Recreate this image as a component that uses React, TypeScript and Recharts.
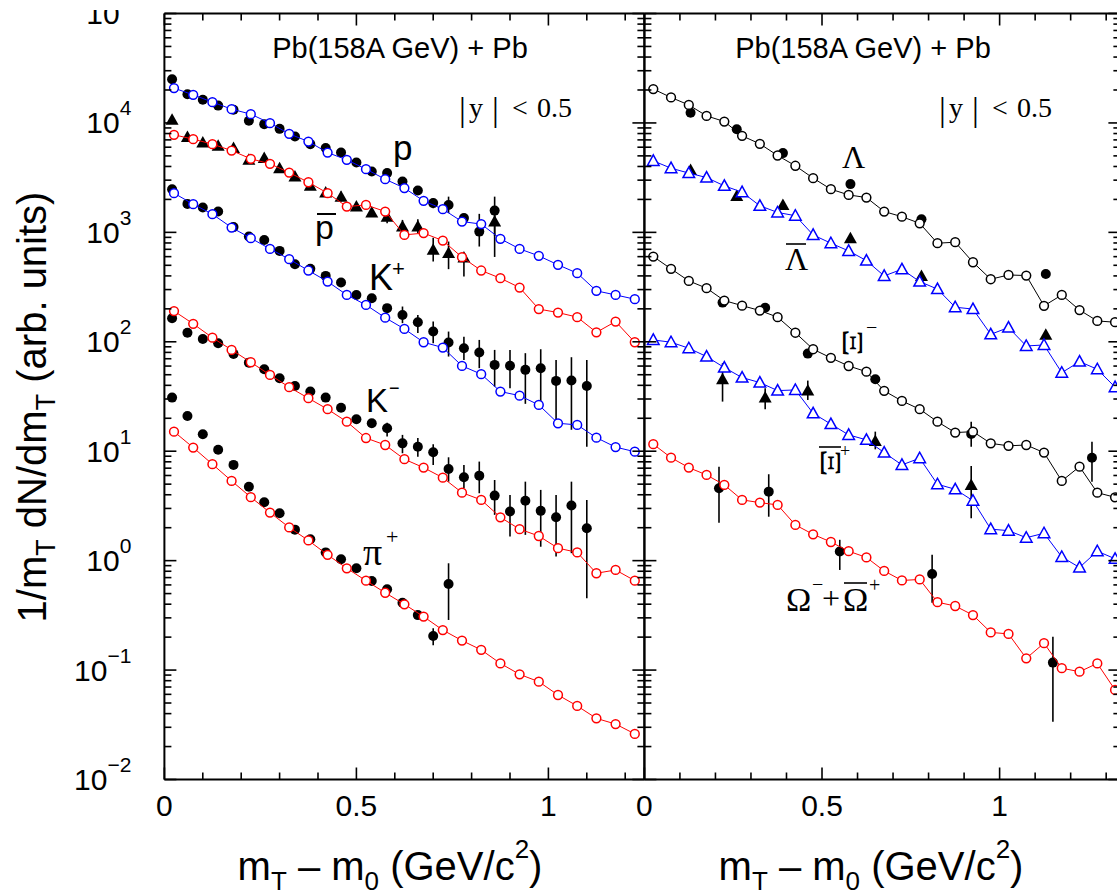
import React from 'react';
import { ScatterChart, Scatter, XAxis, YAxis, ErrorBar } from 'recharts';

const SANS = "'Liberation Sans', Arial, Helvetica, sans-serif";
const SERIF = "'Liberation Serif', 'Times New Roman', serif";
const BLUE = '#0000ff';
const RED = '#ff0000';
const BLACK = '#000000';

// ---------- axis ticks ----------
const xLabelTicks = [0, 0.5, 1];
const xTicksLeft = [0, 0.1, 0.2, 0.3, 0.4, 0.5, 0.6, 0.7, 0.8, 0.9, 1, 1.1, 1.2];
const xTicksRight = [0, 0.1, 0.2, 0.3, 0.4, 0.5, 0.6, 0.7, 0.8, 0.9, 1, 1.1, 1.2, 1.3];
const yDecades = [0.01, 0.1, 1, 10, 100, 1000, 10000, 100000];
const yDecadeExp = ['\u22122', '\u22121', '0', '1', '2', '3', '4', '5'];
const yMinorMult = [2, 3, 4, 5, 6, 7, 8, 9];
const yTicks = [
  ...yDecades,
  ...yDecades.slice(0, -1).flatMap((d) => yMinorMult.map((m) => m * d)),
];

// ---------- left panel: x grids ----------
const xModelL = [0.025, 0.075, 0.125, 0.175, 0.225, 0.275, 0.325, 0.375, 0.425, 0.475, 0.525, 0.575, 0.625, 0.675, 0.725, 0.775, 0.825, 0.875, 0.925, 0.975, 1.025, 1.075, 1.125, 1.175, 1.225];
const xDataL = [0.02, 0.06, 0.10, 0.14, 0.18, 0.22, 0.26, 0.30, 0.34, 0.38, 0.42, 0.46, 0.50, 0.54, 0.58, 0.62, 0.66, 0.70, 0.74, 0.78, 0.82, 0.86, 0.90, 0.94, 0.98, 1.02, 1.06, 1.10];

// protons
const pModel = [20800, 18070, 15490, 13370, 12030, 9950, 7950, 6760, 5360, 4600, 3780, 3060, 2540, 1940, 1630, 1255, 1190, 873, 706, 610, 505, 424, 292, 268, 245];
const pData = [25100, 18300, 16300, 14400, 13200, 10450, 9750, 8830, 7520, 6400, 5890, 5360, 4350, 3600, 3480, 2910, 2410, 1850, 1780, 1350, 1016, 1580];
const pDataErr: Record<number, [number, number]> = { 17: [1665, 2050], 18: [1500, 2120], 20: [742, 1476], 21: [930, 2120] };

// antiprotons
const pbarModel = [7790, 7110, 6400, 5590, 4700, 4230, 3520, 2870, 2280, 1720, 1780, 1550, 948, 984, 841, 593, 448, 381, 313, 199, 185, 168, 122, 153, 99];
const pbarData: (number | null)[] = [10670, 7420, 6620, 6180, 5890, 4600, 4770, 3860, 3240, 2660, 2310, 2120, 1720, 1520, 1390, 1130, 1130, 692, 646, 589, null, 1255];
const pbarDataErr: Record<number, [number, number]> = { 11: [1910, 2360], 14: [1210, 1550], 15: [982, 1300], 16: [982, 1320], 17: [541, 891], 18: [461, 824], 19: [394, 646], 21: [596, 1450] };

// K+
const kpModel = [2280, 1810, 1466, 1107, 885, 706, 569, 448, 355, 268, 217, 166, 131, 99, 88.5, 60.2, 50.6, 35.1, 32.2, 26.5, 18.0, 17.4, 13.3, 10.9, 9.9];
const kpData = [2480, 1820, 1690, 1550, 1117, 916, 853, 677, 512, 464, 400, 348, 268, 250, 203, 176, 151, 124, 98.4, 87.4, 79.7, 61.5, 60.5, 55.4, 57.4, 43.9, 44.2, 39.5];
const kpDataErr: Record<number, [number, number]> = { 15: [148, 210], 16: [120, 176], 17: [97, 153], 18: [73.3, 124], 19: [68.3, 111], 20: [57.4, 104], 21: [38.9, 84.3], 22: [37.7, 84.3], 23: [27.1, 78.7], 24: [25.5, 85.5], 25: [18.0, 68.3], 26: [15.7, 72.3], 27: [11.0, 68.3] };

// K-
const kmModel = [191, 146, 109, 84.3, 65.0, 49.8, 38.5, 30.5, 24.2, 18.6, 13.2, 11.4, 8.45, 7.08, 5.73, 4.18, 3.59, 2.49, 1.94, 1.68, 1.30, 1.19, 0.767, 0.822, 0.656];
const kmData = [164, 121, 106, 97, 77.5, 64.5, 56.1, 46.5, 39.5, 35.1, 30.9, 25.0, 19.6, 18.0, 16.2, 11.8, 11.0, 9.8, 6.89, 5.78, 5.98, 3.93, 2.81, 3.53, 2.85, 2.49, 3.19, 1.98];
const kmDataErr: Record<number, [number, number]> = { 14: [13.6, 18.2], 15: [9.58, 14.1], 16: [8.9, 13.2], 17: [7.5, 11.6], 18: [5.27, 8.8], 19: [4.59, 7.5], 20: [4.13, 8.04], 21: [2.62, 5.46], 22: [1.66, 3.98], 23: [1.72, 5.27], 24: [1.34, 4.43], 25: [1.09, 3.98], 26: [1.17, 5.27], 27: [0.453, 3.59] };

// pi+
const piModel = [15.1, 10.8, 7.61, 5.35, 3.80, 2.75, 2.01, 1.53, 1.13, 0.851, 0.656, 0.509, 0.399, 0.308, 0.232, 0.186, 0.153, 0.115, 0.0914, 0.0783, 0.0592, 0.0470, 0.0362, 0.0321, 0.0261];
const piData = [30.9, 21.0, 14.3, 10.3, 7.50, 4.74, 3.42, 2.71, 1.92, 1.57, 1.19, 1.03, 0.851, 0.652, 0.547, 0.413, 0.318, 0.205, 0.612];
const piDataErr: Record<number, [number, number]> = { 17: [0.169, 0.241], 18: [0.287, 0.946] };

// ---------- right panel ----------
const xModelR = [0.025, 0.075, 0.125, 0.175, 0.225, 0.275, 0.325, 0.375, 0.425, 0.475, 0.525, 0.575, 0.625, 0.675, 0.725, 0.775, 0.825, 0.875, 0.925, 0.975, 1.025, 1.075, 1.125, 1.175, 1.225, 1.275, 1.325];
const xLamData = [0.13, 0.26, 0.39, 0.58, 0.78, 1.13];
const xXiData = [0.22, 0.34, 0.46, 0.65, 0.92, 1.26];
const xOmData = [0.21, 0.35, 0.55, 0.81, 1.15];

const lamModel = [20400, 17100, 14600, 11600, 10300, 7620, 6440, 5040, 4060, 3130, 2480, 2200, 2080, 1550, 1390, 1210, 796, 813, 533, 373, 408, 403, 213, 268, 195, 155, 151];
const lamData = [12400, 8770, 5300, 2760, 1320, 417];

const albModel = [4500, 3860, 3480, 3170, 2660, 2330, 1750, 1520, 1420, 948, 796, 677, 552, 400, 460, 355, 303, 207, 199, 117, 135, 91.6, 93.5, 52.2, 65.9, 56.1, 38.5];
const albData = [3720, 2150, 1780, 885, 400, 116];

const xiModel = [601, 464, 360, 309, 238, 214, 193, 168, 121, 85.5, 71.3, 60.1, 53.3, 35.6, 28.8, 24.2, 18.6, 14.8, 15.1, 11.8, 11.2, 11.4, 9.71, 5.35, 7.23, 4.18, 3.79];
const xiData = [228, 205, 78, 45.5, 14.4, 8.73];
const xiDataErr: Record<number, [number, number]> = { 4: [11.0, 18.6], 5: [5.27, 12.2] };

const xbModel = [104, 99.1, 87.3, 73.3, 58.1, 47.1, 42.4, 35.8, 36.3, 22.2, 17.7, 14.1, 12.7, 9.71, 7.50, 8.63, 4.99, 4.49, 3.53, 1.94, 1.88, 1.62, 1.78, 1.08, 0.867, 1.22, 1.04];
const xbData = [45.5, 30.9, 35.8, 12.4, 4.92];
const xbDataErr: Record<number, [number, number]> = { 0: [28.4, 63.7], 1: [24.2, 37.7], 2: [29.4, 44.2], 3: [10.4, 15.1], 4: [2.44, 7.33] };

const omModel = [11.6, 8.73, 7.08, 6.07, 4.92, 3.59, 3.39, 3.23, 2.12, 1.74, 1.48, 1.22, 1.07, 0.805, 0.659, 0.673, 0.417, 0.385, 0.318, 0.221, 0.214, 0.128, 0.176, 0.104, 0.0966, 0.115, 0.0658];
const omData = [4.59, 4.27, 1.21, 0.755, 0.117];
const omDataErr: Record<number, [number, number]> = { 0: [2.22, 7.23], 1: [2.52, 6.16], 2: [0.822, 1.55], 3: [0.413, 1.13], 4: [0.0337, 0.202] };

// ---------- helpers ----------
type Pt = { x: number; y: number; err: [number, number] };

function build(xs: number[], ys: (number | null)[], errs?: Record<number, [number, number]>): Pt[] {
  const out: Pt[] = [];
  ys.forEach((y, i) => {
    if (y == null) return;
    const e = errs ? errs[i] : undefined;
    out.push({ x: xs[i], y, err: e ? [y - e[0], e[1] - y] : [0, 0] });
  });
  return out;
}

const filledCircle = (props: any) => <circle cx={props.cx} cy={props.cy} r={5} fill={BLACK} />;
const filledTri = (props: any) => {
  const { cx, cy } = props;
  return <polygon points={`${cx},${cy - 6.5} ${cx - 6.5},${cy + 5} ${cx + 6.5},${cy + 5}`} fill={BLACK} />;
};
const openCircle = (c: string) => (props: any) => (
  <circle cx={props.cx} cy={props.cy} r={4.4} fill="#ffffff" stroke={c} strokeWidth={1.5} />
);
const openTri = (c: string) => (props: any) => {
  const { cx, cy } = props;
  return <polygon points={`${cx},${cy - 6} ${cx - 5.8},${cy + 4.5} ${cx + 5.8},${cy + 4.5}`} fill="#ffffff" stroke={c} strokeWidth={1.5} />;
};

type Series = { name: string; data: Pt[]; shape: any; line?: string; errors?: boolean };

const leftSeries: Series[] = [
  { name: 'p data', data: build(xDataL, pData, pDataErr), shape: filledCircle, errors: true },
  { name: 'p model', data: build(xModelL, pModel), shape: openCircle(BLUE), line: BLUE },
  { name: 'pbar data', data: build(xDataL, pbarData, pbarDataErr), shape: filledTri, errors: true },
  { name: 'pbar model', data: build(xModelL, pbarModel), shape: openCircle(RED), line: RED },
  { name: 'K+ data', data: build(xDataL, kpData, kpDataErr), shape: filledCircle, errors: true },
  { name: 'K+ model', data: build(xModelL, kpModel), shape: openCircle(BLUE), line: BLUE },
  { name: 'K- data', data: build(xDataL, kmData, kmDataErr), shape: filledCircle, errors: true },
  { name: 'K- model', data: build(xModelL, kmModel), shape: openCircle(RED), line: RED },
  { name: 'pi+ data', data: build(xDataL, piData, piDataErr), shape: filledCircle, errors: true },
  { name: 'pi+ model', data: build(xModelL, piModel), shape: openCircle(RED), line: RED },
];

const rightSeries: Series[] = [
  { name: 'Lambda data', data: build(xLamData, lamData), shape: filledCircle },
  { name: 'Lambda model', data: build(xModelR, lamModel), shape: openCircle(BLACK), line: BLACK },
  { name: 'Lambdabar data', data: build(xLamData, albData), shape: filledTri },
  { name: 'Lambdabar model', data: build(xModelR, albModel), shape: openTri(BLUE), line: BLUE },
  { name: 'Xi- data', data: build(xXiData, xiData, xiDataErr), shape: filledCircle, errors: true },
  { name: 'Xi- model', data: build(xModelR, xiModel), shape: openCircle(BLACK), line: BLACK },
  { name: 'Xibar+ data', data: build(xXiData, xbData, xbDataErr), shape: filledTri, errors: true },
  { name: 'Xibar+ model', data: build(xModelR, xbModel), shape: openTri(BLUE), line: BLUE },
  { name: 'Omega data', data: build(xOmData, omData, omDataErr), shape: filledCircle, errors: true },
  { name: 'Omega model', data: build(xModelR, omModel), shape: openCircle(RED), line: RED },
];

function decadeIndex(v: number) {
  return yDecades.findIndex((d) => Math.abs(v / d - 1) < 1e-6);
}
function isXLabel(v: number) {
  return xLabelTicks.some((t) => Math.abs(t - v) < 1e-6);
}

function makeYTick(side: 'left' | 'right', withLabels: boolean) {
  return (props: any) => {
    const { x, y, payload } = props;
    const i = decadeIndex(payload.value);
    const len = i >= 0 ? 12 : 7;
    const dir = side === 'left' ? 1 : -1;
    return (
      <g>
        <line x1={x} y1={y} x2={x + dir * len} y2={y} stroke={BLACK} strokeWidth={1.6} />
        {withLabels && i >= 0 && (
          <text x={x - 33} y={y + 10.5} textAnchor="end" fontFamily={SANS} fontSize={30} fill={BLACK}>
            10<tspan dy={-18} fontSize={21}>{yDecadeExp[i]}</tspan>
          </text>
        )}
      </g>
    );
  };
}

function makeXTick(side: 'bottom' | 'top', withLabels: boolean) {
  return (props: any) => {
    const { x, y, payload } = props;
    const major = isXLabel(payload.value);
    const len = major ? 12 : 7;
    const dir = side === 'bottom' ? -1 : 1;
    return (
      <g>
        <line x1={x} y1={y} x2={x} y2={y + dir * len} stroke={BLACK} strokeWidth={1.6} />
        {withLabels && major && (
          <text x={x} y={y + 36.5} textAnchor="middle" fontFamily={SANS} fontSize={30} fill={BLACK}>
            {String(payload.value)}
          </text>
        )}
      </g>
    );
  };
}

type PanelProps = {
  left: number;
  width: number;
  marginLeft: number;
  marginRight: number;
  xMax: number;
  xTicks: number[];
  yLabels: boolean;
  series: Series[];
};

const axisLineStyle = { stroke: BLACK, strokeWidth: 2 };

// Each axis takes 1px of room (a zero-size axis is not drawn); margins compensate.
function Panel({ left, width, marginLeft, marginRight, xMax, xTicks, yLabels, series }: PanelProps) {
  return (
    <div style={{ position: 'absolute', left, top: 10 }}>
      <ScatterChart
        width={width}
        height={885}
        margin={{ top: 2.5, right: marginRight - 1, bottom: 114.5, left: marginLeft - 1 }}
      >
        <XAxis
          xAxisId="b"
          orientation="bottom"
          type="number"
          dataKey="x"
          domain={[0, xMax]}
          allowDataOverflow
          ticks={xTicks}
          interval={0}
          height={1}
          tickSize={0}
          tickMargin={0}
          tickLine={false}
          axisLine={axisLineStyle}
          tick={makeXTick('bottom', true)}
        />
        <XAxis
          xAxisId="t"
          orientation="top"
          type="number"
          dataKey="x"
          domain={[0, xMax]}
          allowDataOverflow
          ticks={xTicks}
          interval={0}
          height={1}
          tickSize={0}
          tickMargin={0}
          tickLine={false}
          axisLine={axisLineStyle}
          tick={makeXTick('top', false)}
        />
        <YAxis
          yAxisId="l"
          orientation="left"
          type="number"
          dataKey="y"
          scale="log"
          domain={[0.01, 100000]}
          allowDataOverflow
          ticks={yTicks}
          interval={0}
          width={1}
          tickSize={0}
          tickMargin={0}
          tickLine={false}
          axisLine={axisLineStyle}
          tick={makeYTick('left', yLabels)}
        />
        <YAxis
          yAxisId="r"
          orientation="right"
          type="number"
          dataKey="y"
          scale="log"
          domain={[0.01, 100000]}
          allowDataOverflow
          ticks={yTicks}
          interval={0}
          width={1}
          tickSize={0}
          tickMargin={0}
          tickLine={false}
          axisLine={axisLineStyle}
          tick={makeYTick('right', false)}
        />
        {series.map((s) => (
          <Scatter
            key={s.name}
            name={s.name}
            data={s.data}
            xAxisId="b"
            yAxisId="l"
            shape={s.shape}
            line={s.line ? { stroke: s.line, strokeWidth: 1 } : false}
            lineType="joint"
            isAnimationActive={false}
          >
            {s.errors ? (
              <ErrorBar dataKey="err" direction="y" width={0} stroke={BLACK} strokeWidth={1.6} isAnimationActive={false} />
            ) : null}
          </Scatter>
        ))}
      </ScatterChart>
    </div>
  );
}

function RotXi({ cx, cy }: { cx: number; cy: number }) {
  return (
    <text
      transform={`translate(${cx},${cy}) rotate(90) scale(1.35,0.95)`}
      x={0}
      y={10.5}
      textAnchor="middle"
      fontFamily={SERIF}
      fontSize={32}
      fill={BLACK}
    >
      Ξ
    </text>
  );
}

function Annotations() {
  const t = { fill: BLACK };
  return (
    <svg width={1117} height={895} style={{ position: 'absolute', left: 0, top: 0, pointerEvents: 'none' }}>
      {/* y axis title */}
      <text transform="translate(46,407) rotate(-90)" textAnchor="middle" fontFamily={SANS} fontSize={40} {...t}>
        1/m<tspan fontSize={27} dy={9}>T</tspan>
        <tspan dy={-9}> dN/dm</tspan>
        <tspan fontSize={27} dy={9}>T</tspan>
        <tspan dy={-9}> (arb. units)</tspan>
      </text>
      {/* x axis titles */}
      {[390, 871].map((cx) => (
        <text key={cx} x={cx} y={880} textAnchor="middle" fontFamily={SANS} fontSize={40} {...t}>
          m<tspan fontSize={26} dy={10}>T</tspan>
          <tspan dy={-10}> – m</tspan>
          <tspan fontSize={26} dy={10}>0</tspan>
          <tspan dy={-10}> (GeV/c</tspan>
          <tspan fontSize={26} dy={-22}>2</tspan>
          <tspan dy={22}>)</tspan>
        </text>
      ))}
      {/* panel titles */}
      <text x={400} y={58} textAnchor="middle" fontFamily={SANS} fontSize={29} {...t}>Pb(158A GeV) + Pb</text>
      <text x={863} y={58} textAnchor="middle" fontFamily={SANS} fontSize={29} {...t}>Pb(158A GeV) + Pb</text>
      {/* |y| < 0.5 */}
      {[0, 480].map((dx) => (
        <g key={dx} fontFamily={SERIF} fill={BLACK}>
          <text x={459 + dx} y={121} fontSize={34}>|</text>
          <text x={469 + dx} y={117} fontSize={28}>y</text>
          <text x={492 + dx} y={121} fontSize={34}>|</text>
          <text x={512 + dx} y={117} fontSize={28}>&lt;</text>
          <text x={537 + dx} y={117} fontSize={28}>0.5</text>
        </g>
      ))}
      {/* left species labels */}
      <text x={393} y={159.5} fontFamily={SANS} fontSize={35} {...t}>p</text>
      <text x={315} y={239} fontFamily={SANS} fontSize={34} {...t}>p</text>
      <line x1={317} y1={214} x2={336} y2={214} stroke={BLACK} strokeWidth={2} />
      <text x={369} y={290} fontFamily={SANS} fontSize={36} {...t}>K</text>
      <text x={392} y={276} fontFamily={SANS} fontSize={22} {...t}>+</text>
      <text x={366} y={412} fontFamily={SANS} fontSize={33} {...t}>K</text>
      <text x={389} y={394} fontFamily={SANS} fontSize={18} {...t}>−</text>
      <text x={363} y={565} fontFamily={SERIF} fontSize={38} {...t}>π</text>
      <text x={386} y={544} fontFamily={SERIF} fontSize={22} {...t}>+</text>
      {/* right species labels */}
      <text x={842} y={168} fontFamily={SERIF} fontSize={32} {...t}>Λ</text>
      <text x={785} y={270} fontFamily={SERIF} fontSize={32} {...t}>Λ</text>
      <line x1={786} y1={244} x2={806} y2={244} stroke={BLACK} strokeWidth={1.6} />
      <RotXi cx={852.5} cy={343} />
      <text x={866} y={334} fontFamily={SERIF} fontSize={20} {...t}>−</text>
      <RotXi cx={831} cy={463} />
      <line x1={819} y1={447} x2={841} y2={447} stroke={BLACK} strokeWidth={1.6} />
      <text x={840} y={457} fontFamily={SERIF} fontSize={18} {...t}>+</text>
      <text x={786} y={611} fontFamily={SERIF} fontSize={34} {...t}>Ω</text>
      <text x={812} y={591} fontFamily={SERIF} fontSize={20} {...t}>−</text>
      <text x={822} y={609} fontFamily={SERIF} fontSize={32} {...t}>+</text>
      <text x={843} y={611} fontFamily={SERIF} fontSize={34} {...t}>Ω</text>
      <line x1={844} y1={583} x2={867} y2={583} stroke={BLACK} strokeWidth={1.6} />
      <text x={869} y={592} fontFamily={SERIF} fontSize={20} {...t}>+</text>
    </svg>
  );
}

export default function App() {
  return (
    <div
      style={{
        position: 'absolute',
        left: 0,
        top: 0,
        width: 1117,
        height: 895,
        overflow: 'hidden',
        background: '#ffffff',
        fontFamily: SANS,
      }}
    >
      <Panel
        left={0}
        width={660}
        marginLeft={164.4}
        marginRight={15.6}
        xMax={1.25}
        xTicks={xTicksLeft}
        yLabels
        series={leftSeries}
      />
      <Panel
        left={630}
        width={495.4}
        marginLeft={14.4}
        marginRight={5}
        xMax={1.34}
        xTicks={xTicksRight}
        yLabels={false}
        series={rightSeries}
      />
      <Annotations />
    </div>
  );
}
